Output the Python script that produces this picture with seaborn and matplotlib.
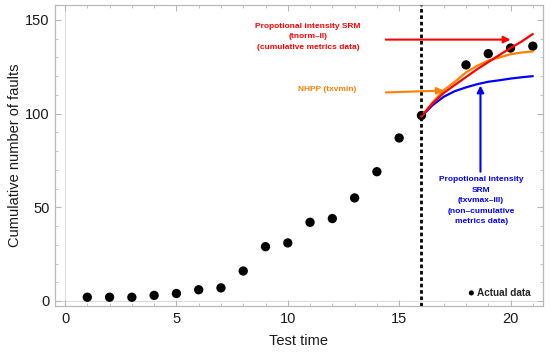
import matplotlib
matplotlib.use("Agg")
import matplotlib.pyplot as plt
import seaborn as sns
import pandas as pd
from matplotlib.ticker import MultipleLocator

# ---- data ----
test_time = [1, 2, 3, 4, 5, 6, 7, 8, 9, 10, 11, 12, 13, 14, 15, 16, 18, 19, 20, 21]
faults = [2, 2, 2, 3, 4, 6, 7, 16, 29, 31, 42, 44, 55, 69, 87, 99, 126, 132, 135, 136]

pred_time = [16, 16.5, 17, 17.5, 18, 18.5, 19, 19.5, 20, 20.5, 21]
srm_tnorm = [98.5, 105.5, 111, 115.3, 119.5, 123.7, 127.5, 131.3, 135, 138.5, 142.5]
nhpp_txvmin = [98.5, 106, 112.5, 117, 122, 125.5, 128.3, 130, 131.7, 132.6, 133.2]
srm_txvmax = [98.5, 104.5, 109, 112, 114, 115.7, 117, 117.8, 118.7, 119.4, 120]

split_time = 16

red_label = "Propotional intensity SRM\n(tnorm\u2013II)\n(cumulative metrics data)"
orange_label = "NHPP (txvmin)"
blue_label = "Propotional intensity\nSRM\n(txvmax\u2013III)\n(non\u2013cumulative\nmetrics data)"
legend_label = "Actual data"
x_label = "Test time"
y_label = "Cumulative number of faults"

RED = "#ff0000"
ORANGE = "#ff8000"
BLUE = "#0000ff"

sns.set_style("white")
plt.rcParams["font.family"] = ["Liberation Sans", "DejaVu Sans"]

fig = plt.figure(figsize=(5.5, 3.53), dpi=100)
ax = fig.add_axes([0.1, 0.133, 0.887, 0.853])

df_obs = pd.DataFrame({"t": test_time, "y": faults})
df_pred = pd.DataFrame({"t": pred_time, "red": srm_tnorm, "orange": nhpp_txvmin, "blue": srm_txvmax})

# Mathematica-style origin axes
ax.axhline(0, color="#dcdcdc", lw=0.8, zorder=0)
ax.axvline(0, color="#dcdcdc", lw=0.8, zorder=0)

sns.scatterplot(data=df_obs, x="t", y="y", ax=ax, color="black", s=45,
                edgecolor="none", zorder=2, label=legend_label)

sns.lineplot(data=df_pred, x="t", y="blue", ax=ax, color=BLUE, lw=1.6, zorder=3, legend=False)
sns.lineplot(data=df_pred, x="t", y="orange", ax=ax, color=ORANGE, lw=1.6, zorder=4, legend=False)
sns.lineplot(data=df_pred, x="t", y="red", ax=ax, color=RED, lw=1.6, zorder=5, legend=False)

ax.axvline(split_time, color="black", lw=2.0, ls=(0, (1.3, 1.0)), zorder=6)

# annotations
arrow_kw = dict(arrowstyle="-|>", lw=1.5, mutation_scale=10, shrinkA=0, shrinkB=0)
ax.annotate("", xy=(20.0, 139.5), xytext=(14.4, 139.5),
            arrowprops=dict(color=RED, **arrow_kw), zorder=7)
ax.annotate("", xy=(17.0, 112.3), xytext=(14.4, 111.3),
            arrowprops=dict(color=ORANGE, **arrow_kw), zorder=7)
ax.annotate("", xy=(18.65, 115.0), xytext=(18.65, 69.0),
            arrowprops=dict(color=BLUE, **arrow_kw), zorder=7)

ax.text(10.9, 141.0, red_label, color=RED, fontsize=6, fontweight="bold",
        ha="center", va="center", linespacing=1.7)
ax.text(11.75, 113.0, orange_label, color=ORANGE, fontsize=6, fontweight="bold",
        ha="center", va="center")
ax.text(18.68, 53.4, blue_label, color=BLUE, fontsize=6, fontweight="bold",
        ha="center", va="center", linespacing=1.7)

ax.set_xlim(-0.45, 21.45)
ax.set_ylim(-2.7, 158)
ax.xaxis.set_major_locator(MultipleLocator(5))
ax.xaxis.set_minor_locator(MultipleLocator(1))
ax.yaxis.set_major_locator(MultipleLocator(50))
ax.yaxis.set_minor_locator(MultipleLocator(10))

frame_col = "#b8b8b8"
for sp in ax.spines.values():
    sp.set_visible(True)
    sp.set_color(frame_col)
    sp.set_linewidth(0.9)

ax.tick_params(which="both", direction="in", top=True, right=True, bottom=True, left=True,
               color=frame_col, labelcolor="#1a1a1a", labelsize=10.5)
ax.tick_params(which="major", length=4, width=0.8, pad=4)
ax.tick_params(which="minor", length=2, width=0.6)

ax.set_xlabel(x_label, fontsize=10.5, color="#1a1a1a", labelpad=6)
ax.set_ylabel(y_label, fontsize=10.5, color="#1a1a1a", labelpad=2)

leg = ax.legend(loc="lower right", bbox_to_anchor=(0.99, 0.005), frameon=False,
                handletextpad=0.1, handlelength=1.0, borderpad=0.2, markerscale=0.55,
                prop={"weight": "bold", "size": 7.2})

fig.savefig("out.png", dpi=100)
